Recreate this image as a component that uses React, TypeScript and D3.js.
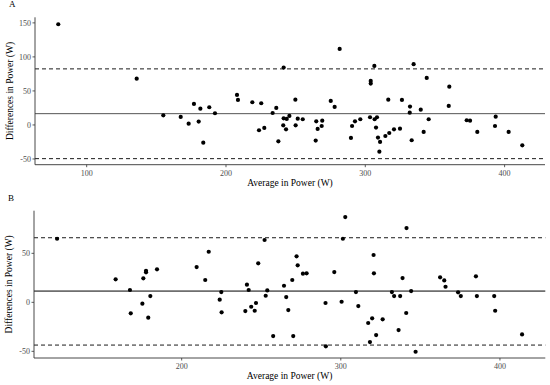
import React from "react";
import * as d3 from "d3";

const W = 550;
const H = 385;
const FONT = "'Liberation Serif', 'DejaVu Serif', serif";

// Panel A: average vs difference
const aAvg = [79.6, 135.9, 155, 167.5, 173.2, 177, 180.4, 181.6, 183.7, 188, 192.1, 207.9, 208.6, 218.9, 223.7, 225.3, 227.5, 233.5, 236.1, 237.6, 241.4, 241.4, 241.1, 243.1, 243.6, 245.5, 249.8, 250, 251.5, 255.1, 264.4, 264.8, 265.8, 268.7, 269.1, 275.2, 278, 281.6, 289.7, 290.5, 292.6, 296.4, 303.4, 303.9, 303.9, 306.5, 306.7, 307.7, 308.4, 309.1, 310.6, 310.1, 314.4, 316.5, 317.2, 320.6, 324.9, 326.3, 332.1, 331.9, 333.3, 334.7, 339.8, 341.9, 344.1, 345.5, 360.3, 359.9, 372.8, 375.2, 380.4, 393.6, 393.1, 402.9, 412.7];
const aDiff = [148, 68, 14.2, 11.8, 1.9, 30.9, 4.9, 24, -26, 26, 17.2, 44.1, 36.8, 33.4, -7.8, 31.9, -4.4, 17.6, 25, -24, 84.3, 9.8, -0.5, -6.4, 8.8, 13.2, 37.2, -0.5, 9.3, 8.4, -23, 5.4, -5.9, -1.5, 6.3, 35.3, 26.5, 111.8, -19.1, -1.5, 5.4, 8.4, 11.3, 60.8, 64.7, 86.8, 8.4, -3.9, 11.3, -18.6, -25, -39.2, -16.2, 37.2, -11.8, -6.4, -5.4, 36.8, 27, 18.1, -22.5, 89.3, 22.5, -10.3, 69.1, 8.4, 56.3, 27.9, 6.9, 6.3, -10.3, 12.2, -1.5, -10.3, -29.9];
const aLines = { mean: 16.6, upper: 82.4, lower: -49.5 };

// Panel B
const bAvg = [121.7, 158.5, 167.5, 168, 175.3, 175.9, 177.6, 177.6, 179, 180.3, 184.5, 209.4, 214.8, 217, 223.9, 224.9, 225.1, 240, 241, 242.1, 243.7, 245.9, 246.7, 248.1, 252.1, 252.8, 253.8, 257.5, 264.3, 265.7, 267, 269.5, 270.1, 272.2, 272.9, 276.2, 278.5, 290.4, 290.6, 295.9, 300.5, 301.3, 302.8, 309.5, 311, 317.2, 318.3, 319.7, 320.6, 320.8, 322.2, 326.3, 332.1, 333.5, 336.3, 337.3, 338.8, 341.3, 341.1, 344.2, 347, 362.4, 365, 365.8, 373.7, 375.4, 384.9, 385.5, 396.4, 397, 413.9];
const bDiff = [64.9, 23.5, 12.6, -11.2, -1.4, 24.5, 32.2, 30.6, -15.7, 6.4, 33.7, 36, 22.8, 51.6, 2.7, 10.5, -10.2, -8.9, 18, 12.6, -4.5, -8.6, -0.7, 39.8, 63.6, 6.7, 12.2, -34.4, 16.9, 5.4, -7.9, 22.8, -34.4, 46.9, 37.8, 29.2, 29.6, -0.7, -44.9, 30.9, 0.6, 64.9, 87, 10.5, -3.8, -21.1, -40.5, -16.3, 48.3, 29.6, -33.4, -17.3, 10.5, 6.4, -28.3, 6.4, 24.8, 75.8, -10.9, 11.5, -50.4, 25.5, 22.4, 15.9, 10.2, 6.4, 26.5, 6.4, 6.4, -8.6, -32.7];
const bLines = { mean: 11.5, upper: 65.9, lower: -43.6 };

const aXTicks = [100, 200, 300, 400];
const aYTicks = [-50, 0, 50, 100, 150];
const bXTicks = [200, 300, 400];
const bYTicks = [-50, 0, 50];

type PanelProps = {
  tag: string;
  avg: number[];
  diff: number[];
  lines: { mean: number; upper: number; lower: number };
  xDomain: [number, number];
  yDomain: [number, number];
  box: { left: number; right: number; top: number; bottom: number };
  xTicks: number[];
  yTicks: number[];
  meanColor: string;
};

function Panel(p: PanelProps) {
  const { box } = p;
  const x = d3.scaleLinear().domain(p.xDomain).range([box.left, box.right]);
  const y = d3.scaleLinear().domain(p.yDomain).range([box.bottom, box.top]);
  const midY = (box.top + box.bottom) / 2;
  const midX = (box.left + box.right) / 2;
  return (
    <g>
      <text x={box.left - 26} y={box.top - 10} fontFamily={FONT} fontSize={9} fill="#000">
        {p.tag}
      </text>
      <line x1={box.left} x2={box.right} y1={y(p.lines.upper)} y2={y(p.lines.upper)} stroke="#000" strokeWidth={0.9} strokeDasharray="4,3" />
      <line x1={box.left} x2={box.right} y1={y(p.lines.lower)} y2={y(p.lines.lower)} stroke="#000" strokeWidth={0.9} strokeDasharray="4,3" />
      <line x1={box.left} x2={box.right} y1={y(p.lines.mean)} y2={y(p.lines.mean)} stroke={p.meanColor} strokeWidth={1} />
      {p.avg.map((a, i) => (
        <circle key={i} cx={x(a)} cy={y(p.diff[i])} r={2.1} fill="#000" />
      ))}
      <line x1={box.left} x2={box.left} y1={box.top} y2={box.bottom} stroke="#333" strokeWidth={0.9} />
      <line x1={box.left} x2={box.right} y1={box.bottom} y2={box.bottom} stroke="#333" strokeWidth={0.9} />
      {p.yTicks.map((t) => (
        <g key={"y" + t}>
          <line x1={box.left - 2.5} x2={box.left} y1={y(t)} y2={y(t)} stroke="#333" strokeWidth={0.8} />
          <text x={box.left - 4} y={y(t)} dy="0.33em" textAnchor="end" fontFamily={FONT} fontSize={8} fill="#4d4d4d">
            {t}
          </text>
        </g>
      ))}
      {p.xTicks.map((t) => (
        <g key={"x" + t}>
          <line x1={x(t)} x2={x(t)} y1={box.bottom} y2={box.bottom + 2.5} stroke="#333" strokeWidth={0.8} />
          <text x={x(t)} y={box.bottom + 11} textAnchor="middle" fontFamily={FONT} fontSize={8} fill="#4d4d4d">
            {t}
          </text>
        </g>
      ))}
      <text x={midX} y={box.bottom + 21} textAnchor="middle" fontFamily={FONT} fontSize={9.5} fill="#000">
        Average in Power (W)
      </text>
      <text transform={`translate(${box.left - 22},${midY}) rotate(-90)`} textAnchor="middle" fontFamily={FONT} fontSize={9.5} fill="#000">
        Differences in Power (W)
      </text>
    </g>
  );
}

export default function App() {
  return (
    <svg width={W} height={H} style={{ position: "absolute", left: 0, top: 0, background: "#fff" }}>
      <Panel
        tag="A"
        avg={aAvg}
        diff={aDiff}
        lines={aLines}
        xDomain={[62.9, 429]}
        yDomain={[-58.4, 158.2]}
        box={{ left: 35, right: 545, top: 17.3, bottom: 164.7 }}
        xTicks={aXTicks}
        yTicks={aYTicks}
        meanColor="#555"
      />
      <Panel
        tag="B"
        avg={bAvg}
        diff={bDiff}
        lines={bLines}
        xDomain={[107.2, 428.5]}
        yDomain={[-56.8, 93.5]}
        box={{ left: 34, right: 545.3, top: 210.7, bottom: 358 }}
        xTicks={bXTicks}
        yTicks={bYTicks}
        meanColor="#000"
      />
    </svg>
  );
}
